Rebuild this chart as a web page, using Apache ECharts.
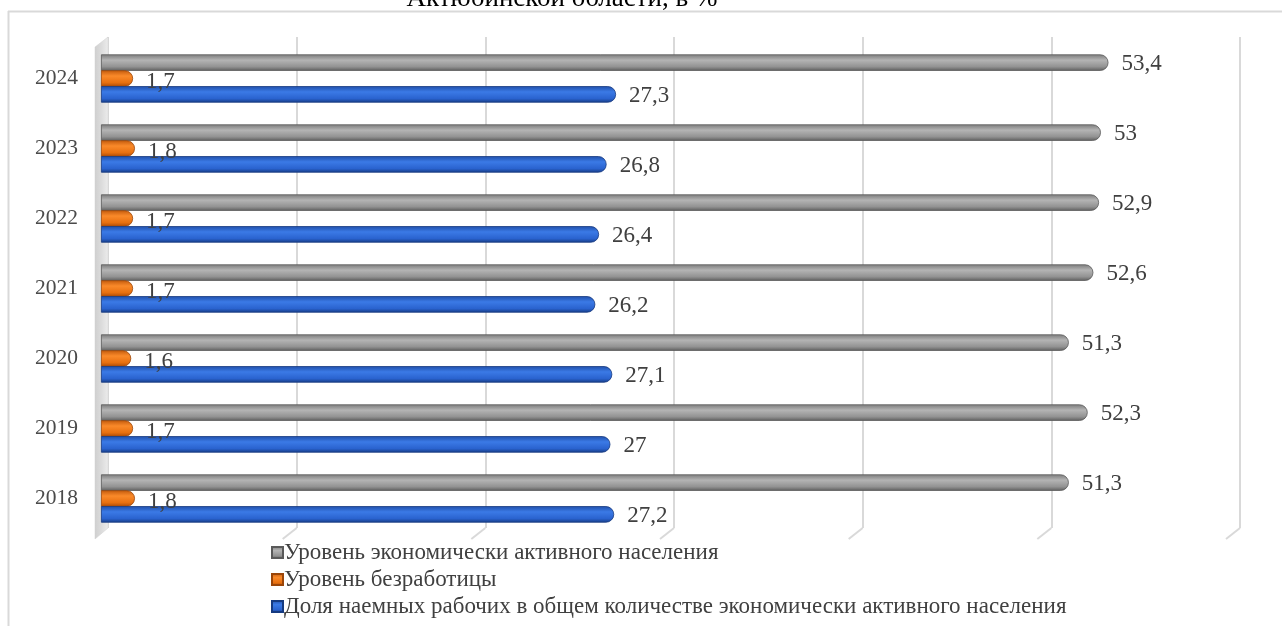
<!DOCTYPE html>
<html>
<head>
<meta charset="utf-8">
<script src="https://cdn.jsdelivr.net/npm/echarts@6/dist/echarts.min.js"></script>
<style>
html,body{margin:0;padding:0;background:#fff;}
#c{width:1282px;height:626px;}
</style>
</head>
<body>
<div id="c"></div>
<script>
const years = ['2018', '2019', '2020', '2021', '2022', '2023', '2024'];
const activeLevel = [51.3, 52.3, 51.3, 52.6, 52.9, 53, 53.4];
const unemployment = [1.8, 1.7, 1.6, 1.7, 1.7, 1.8, 1.7];
const hiredShare = [27.2, 27, 27.1, 26.2, 26.4, 26.8, 27.3];
const seriesNames = [
  'Уровень экономически активного населения',
  'Уровень безработицы',
  'Доля наемных рабочих в общем количестве экономически активного населения'
];
const gridTicks = [0, 10, 20, 30, 40, 50, 60];
const titleText = 'Актюбинской области, в %';

const SERIF = '"Liberation Serif", "Times New Roman", serif';
const fmt = v => String(v).replace('.', ',');

function grad(c1, c2, c3, c4) {
  return new echarts.graphic.LinearGradient(0, 0, 0, 1, [
    {offset: 0, color: c1},
    {offset: 0.35, color: c2},
    {offset: 0.75, color: c3},
    {offset: 1, color: c4}
  ]);
}
const grayFill = grad('#7a7a7a', '#b4b4b4', '#929292', '#5c5c5c');
const orangeFill = grad('#c35a0c', '#fa8a2a', '#e8700f', '#a84a08');
const blueFill = grad('#1f4ea8', '#3b7ae6', '#2a63cf', '#173c85');

function barSeries(name, data, fill, edge, labelOffset) {
  return {
    name: name,
    type: 'bar',
    xAxisIndex: 0,
    yAxisIndex: 0,
    data: data,
    barGap: '-4%',
    barCategoryGap: '31%',
    itemStyle: {color: fill, borderColor: edge, borderWidth: 0.8, borderRadius: [0, 8, 8, 0]},
    label: {
      show: true, position: 'right', distance: 13, offset: labelOffset,
      formatter: p => fmt(p.value),
      fontFamily: SERIF, fontSize: 23, color: '#404040'
    },
    z: 5
  };
}

const chart = echarts.init(document.getElementById('c'), null, {renderer: 'canvas'});
chart.setOption({
  animation: false,
  backgroundColor: '#ffffff',
  graphic: [
    {type: 'line', shape: {x1: 8, y1: 11.5, x2: 1282, y2: 11.5}, style: {stroke: '#d9d9d9', lineWidth: 2}, z: 0},
    {type: 'line', shape: {x1: 8.5, y1: 11, x2: 8.5, y2: 626}, style: {stroke: '#d9d9d9', lineWidth: 2}, z: 0},
    {type: 'text', x: 562, y: 12, style: {text: titleText, font: '27px ' + SERIF, fill: '#000', textAlign: 'center', textVerticalAlign: 'bottom'}}
  ],
  legend: {
    orient: 'vertical',
    left: 266, top: 536,
    itemWidth: 11, itemHeight: 11, itemGap: 4,
    icon: 'rect',
    textStyle: {fontFamily: SERIF, fontSize: 23, color: '#404040', padding: [0, 0, 0, -4]},
    data: seriesNames
  },
  grid: [
    {left: 101, right: 49, top: 43.5, bottom: 92.5},
    {left: 108, right: 42, top: 37, bottom: 98}
  ],
  xAxis: [
    {type: 'value', gridIndex: 0, min: 0, max: 60, interval: 10, show: false},
    {type: 'value', gridIndex: 1, min: 0, max: 60, interval: 10,
      axisLine: {show: false}, axisTick: {show: false}, axisLabel: {show: false},
      splitLine: {show: true, lineStyle: {color: '#d9d9d9', width: 2}}}
  ],
  yAxis: [
    {type: 'category', gridIndex: 0, data: years,
      axisLine: {show: false}, axisTick: {show: false},
      axisLabel: {margin: 23, fontFamily: SERIF, fontSize: 21.5, color: '#4a4a4a', padding: [10, 0, 0, 0]}},
    {type: 'value', gridIndex: 1, min: 0, max: 1, show: false}
  ],
  series: [
    {
      type: 'custom', xAxisIndex: 1, yAxisIndex: 1, silent: true, z: 1,
      data: gridTicks.map(v => [v]),
      renderItem: function (params, api) {
        const v = api.value(0);
        const top = api.coord([v, 1]);
        const bot = api.coord([v, 0]);
        if (v === 0) {
          return {
            type: 'polygon',
            shape: {points: [[top[0] - 13, top[1] + 10], [top[0], top[1]], [bot[0], bot[1]], [bot[0] - 13, bot[1] + 11]]},
            style: {fill: new echarts.graphic.LinearGradient(0, 0, 1, 0, [
              {offset: 0, color: '#cfcfcf'}, {offset: 0.5, color: '#dcdcdc'}, {offset: 1, color: '#ececec'}
            ]), stroke: '#d0d0d0', lineWidth: 0.5}
          };
        }
        return {
          type: 'line',
          shape: {x1: bot[0], y1: bot[1], x2: bot[0] - 14, y2: bot[1] + 11},
          style: {stroke: '#d9d9d9', lineWidth: 2}
        };
      }
    },
    barSeries(seriesNames[0], activeLevel, grayFill, '#5a5a5a', [0, 1]),
    barSeries(seriesNames[1], unemployment, orangeFill, '#9a4508', [0, 3]),
    barSeries(seriesNames[2], hiredShare, blueFill, '#163a80', [0, 2])
  ]
});
</script>
</body>
</html>
